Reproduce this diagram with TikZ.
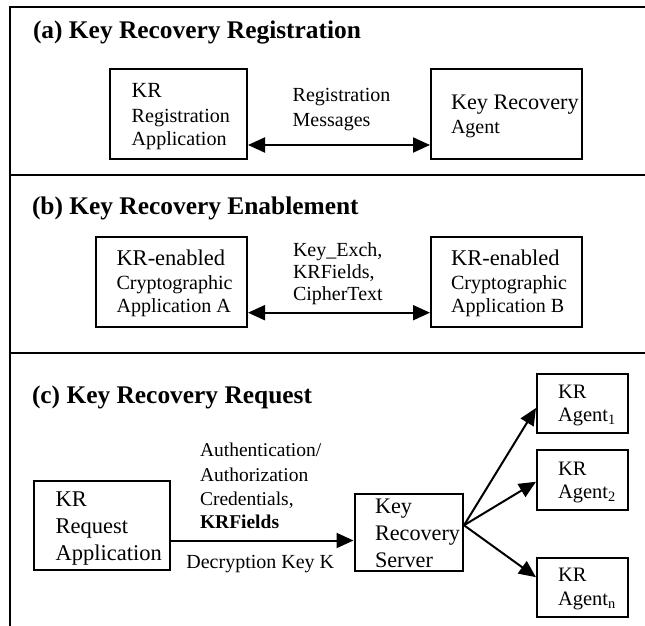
\documentclass[tikz,border=0pt]{standalone}
\usepackage{fontspec}
\setmainfont{Liberation Serif}
\usetikzlibrary{arrows.meta,calc}
\newcommand\fs[1]{\fontsize{#1}{#1}\selectfont}
\tikzset{
  box/.style={draw, line width=2pt, inner sep=0pt, rectangle},
  txt/.style={anchor=base west, inner sep=0pt, outer sep=0pt},
  ttl/.style={txt, font=\fs{25.4}\bfseries},
  tipA/.tip={Triangle[length=17pt,width=15pt]},
  conn/.style={line width=2pt, -tipA},
  dconn/.style={line width=2pt, tipA-tipA},
  frame/.style={line width=2pt},
}
\begin{document}
\begin{tikzpicture}[x=1pt,y=-1pt]
\useasboundingbox (0,0) rectangle (645,626);
% frame and dividers
\draw[frame] (645,7.5) -- (10,7.5) -- (10,626);
\draw[frame] (10,174.5) -- (645,174.5);
\draw[frame] (10,353) -- (645,353);
% titles
\node[ttl] (ta) at (33,39) {(a) Key Recovery Registration};
\node[ttl] (tb) at (32,214) {(b) Key Recovery Enablement};
\node[ttl] (tc) at (32,403) {(c) Key Recovery Request};
% (a) boxes
\node[box, minimum width=137, minimum height=90] (al) at (178.5,114) {};
\node[box, minimum width=150.5, minimum height=90] (ar) at (506.25,114) {};
\node[txt, font=\fs{21.6}] (al1) at (131.7,97) {KR};
\node[txt, font=\fs{20.1}] (al2) at (131.7,122) {Registration};
\node[txt, font=\fs{20.1}] (al3) at (131.7,145) {Application};
\node[txt, font=\fs{22.2}] (ar1) at (451,109) {Key Recovery};
\node[txt, font=\fs{20}] (ar2) at (451,133) {Agent};
\node[txt, font=\fs{20}] (la1) at (292.7,101.7) {Registration};
\node[txt, font=\fs{20}] (la2) at (292.7,126) {Messages};
\draw[dconn] ($(al.east)+(0,31)$) -- ($(ar.west)+(0,31)$);
% (b) boxes
\node[box, minimum width=151, minimum height=90] (bl) at (171.5,281.7) {};
\node[box, minimum width=150.5, minimum height=90] (br) at (506.25,281.7) {};
\node[txt, font=\fs{22.5}] (bl1) at (116.5,265) {KR-enabled};
\node[txt, font=\fs{20.1}] (bl2) at (116.5,289) {Cryptographic};
\node[txt, font=\fs{20.1}] (bl3) at (116.5,312) {Application A};
\node[txt, font=\fs{22.5}] (br1) at (451,265) {KR-enabled};
\node[txt, font=\fs{20.1}] (br2) at (451,289) {Cryptographic};
\node[txt, font=\fs{20.1}] (br3) at (451,312) {Application B};
\node[txt, font=\fs{20}] (lb1) at (293,256.7) {Key\_Exch,};
\node[txt, font=\fs{20}] (lb2) at (293,278) {KRFields,};
\node[txt, font=\fs{20}] (lb3) at (293,300) {CipherText};
\draw[dconn] ($(bl.east)+(0,31)$) -- ($(br.west)+(0,31)$);
% (c)
\node[box, minimum width=136, minimum height=89] (req) at (102,525.5) {};
\node[box, minimum width=108.5, minimum height=76.5] (srv) at (408.75,532.25) {};
\node[box, minimum width=90.6, minimum height=59] (a1) at (582.3,403.5) {};
\node[box, minimum width=90.6, minimum height=59.5] (a2) at (582.3,479.75) {};
\node[box, minimum width=90.6, minimum height=59] (an) at (582.3,587.2) {};
\node[txt, font=\fs{22.5}] (rq1) at (55.6,506.7) {KR};
\node[txt, font=\fs{22.5}] (rq2) at (55.6,533) {Request};
\node[txt, font=\fs{22.5}] (rq3) at (55.6,560) {Application};
\node[txt, font=\fs{22.2}] (sv1) at (375,513) {Key};
\node[txt, font=\fs{22.2}] (sv2) at (375,540) {Recovery};
\node[txt, font=\fs{22.2}] (sv3) at (375,567) {Server};
\node[txt, font=\fs{19.5}] (lc1) at (200,456.7) {Authentication/};
\node[txt, font=\fs{19.5}] (lc2) at (200,481) {Authorization};
\node[txt, font=\fs{19.5}] (lc3) at (200,505) {Credentials,};
\node[txt, font=\fs{19.5}\bfseries] (lc4) at (200,528) {KRFields};
\node[txt, font=\fs{20}] (lc5) at (186.4,568) {Decryption Key K};
\node[txt, font=\fs{20.5}] (g11) at (558,398) {KR};
\node[txt, font=\fs{20.5}] (g12) at (558,421.7) {Agent\textsubscript{1}};
\node[txt, font=\fs{20.5}] (g21) at (558,475) {KR};
\node[txt, font=\fs{20.5}] (g22) at (558,498) {Agent\textsubscript{2}};
\node[txt, font=\fs{20.5}] (gn1) at (558,581.7) {KR};
\node[txt, font=\fs{20.5}] (gn2) at (558,605) {Agent\textsubscript{n}};
\coordinate (c1) at ($(req.east)+(0,15)$);
\draw[conn] (c1) -- (c1 -| srv.west);
\coordinate (fan) at ($(srv.east)+(0,-7)$);
\draw[conn] (fan) -- ($(a1.west)+(0,4.5)$);
\draw[conn] (fan) -- ($(a2.west)+(0,2)$);
\draw[conn] (fan) -- ($(an.west)+(0,-10)$);
\end{tikzpicture}
\end{document}
